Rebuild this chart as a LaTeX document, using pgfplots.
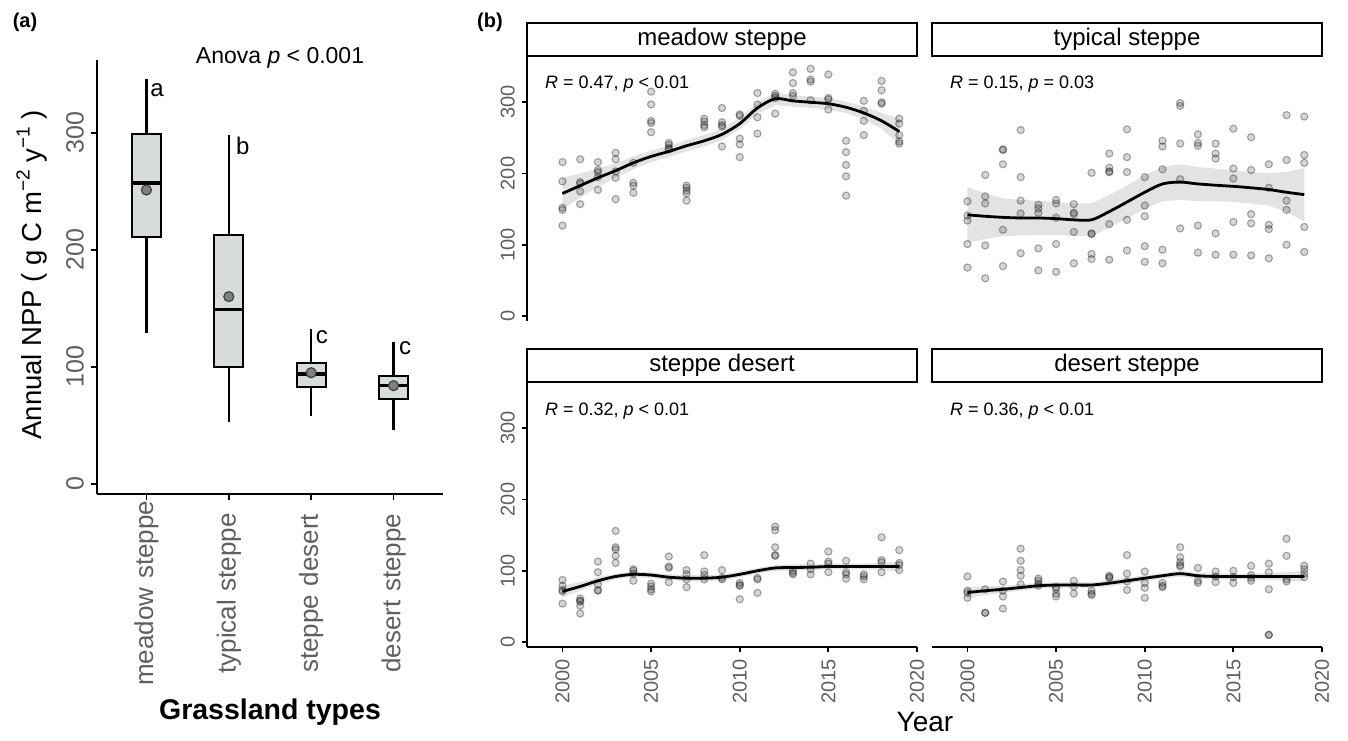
\documentclass[border=0pt]{standalone}
\usepackage{fontspec}
\setmainfont{Liberation Sans}
\usepackage{pgfplots}
\pgfplotsset{compat=1.18}
\definecolor{tickgray}{RGB}{95,95,95}
\definecolor{boxfill}{RGB}{214,220,220}
\definecolor{meanfill}{RGB}{128,128,128}
\newcommand{\fs}[1]{\fontsize{#1}{#1}\selectfont}
\newcommand{\sups}[1]{\raisebox{0.85ex}{\fs{9.5}#1}}

\tikzset{rlab/.style={anchor=west, inner sep=0pt, font=\fs{9}}}
\pgfplotsset{
  facet/.style={
    scale only axis, width=195pt, height=132.5pt,
    xmin=1998, xmax=2020, ymin=-7, ymax=365,
    xtick={2000,2005,2010,2015,2020}, ytick={0,100,200,300},
    tick align=outside, major tick length=2.5pt,
    tick style={black, line width=0.9pt},
    axis line style={black, line width=1pt, -},
    /pgf/number format/1000 sep={},
    /pgf/number format/assume math mode=true,
    yticklabel style={rotate=90, anchor=south, font=\fs{10}, text=tickgray},
    xticklabel style={rotate=90, anchor=east, font=\fs{10}, text=tickgray},
  },
  pts/.style={only marks, mark=*, mark size=1.8pt,
    mark options={fill=black, fill opacity=0.16, draw=black, draw opacity=0.32, line width=0.55pt}},
  fit/.style={black, line width=1.4pt, smooth, no marks},
  band/.style={fill=black!40, fill opacity=0.28, draw=none},
  bx/.style={draw=black, fill=boxfill, line width=1pt},
  wh/.style={black, line width=1.1pt},
  md/.style={black, line width=1.8pt},
}

\begin{document}
\begin{tikzpicture}
\useasboundingbox (0,0) rectangle (674pt,370pt);

% ---------------- Panel (a) ----------------
\begin{axis}[
  at={(48.5pt,123pt)}, anchor=south west,
  scale only axis, width=173pt, height=217pt,
  xmin=0.4, xmax=4.6, ymin=-8.5, ymax=362,
  axis x line*=bottom, axis y line*=left,
  axis line style={black, line width=1pt, -},
  tick align=outside, major tick length=3pt,
  tick style={black, line width=0.9pt},
  xtick={1,2,3,4},
  xticklabels={meadow steppe, typical steppe, steppe desert, desert steppe},
  ytick={0,100,200,300},
  /pgf/number format/assume math mode=true,
  yticklabel style={rotate=90, anchor=south, font=\fs{12.5}, text=tickgray},
  xticklabel style={rotate=90, anchor=east, font=\fs{13}, text=tickgray,
    text width=93pt, align=center, inner sep=0pt},
  clip=false,
]
% meadow steppe
\addplot[wh] coordinates {(1,299) (1,346)};
\addplot[wh] coordinates {(1,211) (1,129)};
\addplot[bx] coordinates {(0.825,211) (1.175,211) (1.175,299) (0.825,299)} -- cycle;
\addplot[md] coordinates {(0.825,257) (1.175,257)};
% typical steppe
\addplot[wh] coordinates {(2,213) (2,298)};
\addplot[wh] coordinates {(2,100) (2,53)};
\addplot[bx] coordinates {(1.825,100) (2.175,100) (2.175,213) (1.825,213)} -- cycle;
\addplot[md] coordinates {(1.825,149) (2.175,149)};
% steppe desert
\addplot[wh] coordinates {(3,103) (3,132)};
\addplot[wh] coordinates {(3,83) (3,58)};
\addplot[bx] coordinates {(2.825,83) (3.175,83) (3.175,103) (2.825,103)} -- cycle;
\addplot[md] coordinates {(2.825,94) (3.175,94)};
% desert steppe
\addplot[wh] coordinates {(4,92) (4,121)};
\addplot[wh] coordinates {(4,73) (4,46)};
\addplot[bx] coordinates {(3.825,73) (4.175,73) (4.175,92) (3.825,92)} -- cycle;
\addplot[md] coordinates {(3.825,84) (4.175,84)};
% means
\addplot[only marks, mark=*, mark size=2.5pt,
  mark options={fill=meanfill, draw=black!75, line width=0.6pt}]
  coordinates {(1,251) (2,160) (3,95) (4,84)};
\node[font=\fs{12}] at (axis cs:1.13,336) {a};
\node[font=\fs{12}] at (axis cs:2.17,289) {b};
\node[font=\fs{12}] at (axis cs:3.13,125) {c};
\node[font=\fs{12}] at (axis cs:4.14,116) {c};
\end{axis}

\node[font=\fs{11.5}] at (140pt,341pt) {Anova \textit{p} < 0.001};
\node[rotate=90, font=\fs{13.75}] at (16pt,232.5pt)
  {Annual NPP ( g C m\sups{−2} y\sups{−1} )};
\node[font=\bfseries\fs{14.25}] at (135pt,14pt) {Grassland types};
\node[font=\bfseries\fs{10}] at (12.5pt,359pt) {(a)};
\node[font=\bfseries\fs{10}] at (245pt,359pt) {(b)};

% ---------------- Panel (b) strips ----------------
\draw[line width=1pt] (263.5pt,342pt) rectangle (458.5pt,358.5pt);
\node[font=\fs{12}] at (361pt,350.25pt) {meadow steppe};
\draw[line width=1pt] (466pt,342pt) rectangle (661pt,358.5pt);
\node[font=\fs{12}] at (563.5pt,350.25pt) {typical steppe};
\draw[line width=1pt] (263.5pt,179pt) rectangle (458.5pt,195.5pt);
\node[font=\fs{12}] at (361pt,187.25pt) {steppe desert};
\draw[line width=1pt] (466pt,179pt) rectangle (661pt,195.5pt);
\node[font=\fs{12}] at (563.5pt,187.25pt) {desert steppe};

% ---------------- meadow steppe ----------------
\begin{axis}[facet, at={(263.5pt,209.5pt)}, anchor=south west,
  axis y line*=left, axis x line=none]
\addplot[pts] coordinates {
(2000,216)(2000,189)(2000,152)(2000,149)(2000,127)
(2001,220)(2001,188)(2001,186)(2001,175)(2001,157)
(2002,216)(2002,205)(2002,202)(2002,195)(2002,177)
(2003,229)(2003,220)(2003,203)(2003,194)(2003,164)
(2004,215)(2004,187)(2004,183)(2004,173)
(2005,315)(2005,297)(2005,274)(2005,271)(2005,258)
(2006,243)(2006,240)(2006,236)(2006,234)
(2007,183)(2007,180)(2007,176)(2007,172)(2007,162)
(2008,277)(2008,273)(2008,268)(2008,265)
(2009,292)(2009,272)(2009,268)(2009,266)(2009,238)
(2010,283)(2010,281)(2010,249)(2010,241)(2010,223)
(2011,313)(2011,297)(2011,279)(2011,256)
(2012,312)(2012,309)(2012,306)(2012,284)
(2013,342)(2013,327)(2013,313)(2013,309)
(2014,347)(2014,332)(2014,329)(2014,303)
(2015,339)(2015,306)(2015,304)(2015,290)
(2016,246)(2016,230)(2016,212)(2016,196)(2016,169)
(2017,302)(2017,288)(2017,274)(2017,254)
(2018,330)(2018,317)(2018,300)(2018,298)
(2019,277)(2019,270)(2019,254)(2019,245)(2019,242)
};
\addplot[band] coordinates {
(2000,194)(2001,200)(2002,207)(2003,214)(2004,224)(2005,232)(2006,239)(2007,247)
(2008,254)(2009,263)(2010,278)(2011,300)(2012,314)(2013,310)(2014,308)(2015,306)
(2016,301)(2017,294)(2018,285)(2019,277)
(2019,241)(2018,263)(2017,276)(2016,285)(2015,290)(2014,292)(2013,294)(2012,296)
(2011,284)(2010,262)(2009,247)(2008,238)(2007,231)(2006,223)(2005,216)(2004,206)
(2003,194)(2002,181)(2001,166)(2000,150)
} -- cycle;
\addplot[fit] coordinates {
(2000,172)(2001,183)(2002,194)(2003,204)(2004,215)(2005,224)(2006,231)(2007,239)
(2008,246)(2009,255)(2010,270)(2011,292)(2012,305)(2013,302)(2014,300)(2015,298)
(2016,293)(2017,285)(2018,274)(2019,259)
};
\node[rlab] at (axis cs:1999,325) {\textit{R} = 0.47, \textit{p} < 0.01};
\end{axis}

% ---------------- typical steppe ----------------
\begin{axis}[facet, at={(466pt,209.5pt)}, anchor=south west,
  axis lines=none]
\addplot[pts] coordinates {
(2000,161)(2000,141)(2000,134)(2000,101)(2000,68)
(2001,198)(2001,168)(2001,158)(2001,99)(2001,53)
(2002,234)(2002,233)(2002,213)(2002,121)(2002,70)
(2003,261)(2003,195)(2003,162)(2003,144)(2003,88)
(2004,156)(2004,151)(2004,145)(2004,95)(2004,64)
(2005,163)(2005,158)(2005,138)(2005,101)(2005,62)
(2006,157)(2006,145)(2006,143)(2006,118)(2006,74)
(2007,201)(2007,116)(2007,115)(2007,87)(2007,80)
(2008,228)(2008,208)(2008,203)(2008,202)(2008,129)(2008,79)
(2009,262)(2009,223)(2009,202)(2009,135)(2009,92)
(2010,195)(2010,155)(2010,140)(2010,98)(2010,76)
(2011,246)(2011,238)(2011,206)(2011,93)(2011,74)
(2012,299)(2012,295)(2012,242)(2012,192)(2012,123)
(2013,255)(2013,243)(2013,239)(2013,127)(2013,89)
(2014,242)(2014,228)(2014,221)(2014,116)(2014,86)
(2015,263)(2015,207)(2015,193)(2015,132)(2015,86)
(2016,251)(2016,205)(2016,143)(2016,130)(2016,85)
(2017,213)(2017,180)(2017,128)(2017,122)(2017,81)
(2018,282)(2018,219)(2018,162)(2018,149)(2018,100)
(2019,280)(2019,226)(2019,215)(2019,125)(2019,90)
};
\addplot[band] coordinates {
(2000,181)(2001,172)(2002,165)(2003,163)(2004,162)(2005,160)(2006,158)(2007,158)
(2008,170)(2009,183)(2010,198)(2011,209)(2012,213)(2013,209)(2014,207)(2015,204)
(2016,202)(2017,201)(2018,202)(2019,208)
(2019,133)(2018,146)(2017,155)(2016,158)(2015,160)(2014,161)(2013,161)(2012,163)
(2011,161)(2010,150)(2009,137)(2008,124)(2007,112)(2006,112)(2005,114)(2004,114)
(2003,113)(2002,112)(2001,108)(2000,103)
} -- cycle;
\addplot[fit] coordinates {
(2000,142)(2001,140)(2002,138.5)(2003,137.6)(2004,137.6)(2005,136.7)(2006,135)(2007,135)
(2008,146.6)(2009,160)(2010,173.7)(2011,185.4)(2012,188)(2013,185.4)(2014,183.6)(2015,182)
(2016,180)(2017,177.5)(2018,173.7)(2019,170.4)
};
\node[rlab] at (axis cs:1999,325) {\textit{R} = 0.15, \textit{p} = 0.03};
\end{axis}

% ---------------- steppe desert ----------------
\begin{axis}[facet, at={(263.5pt,46.5pt)}, anchor=south west,
  axis x line*=bottom, axis y line*=left]
\addplot[pts] coordinates {
(2000,87)(2000,79)(2000,73)(2000,71)(2000,54)
(2001,61)(2001,58)(2001,57)(2001,51)(2001,40)
(2002,113)(2002,98)(2002,81)(2002,73)(2002,72)
(2003,156)(2003,133)(2003,130)(2003,121)(2003,111)
(2004,102)(2004,100)(2004,96)(2004,86)
(2005,82)(2005,78)(2005,74)(2005,71)
(2006,120)(2006,106)(2006,104)(2006,84)
(2007,101)(2007,95)(2007,88)(2007,77)
(2008,122)(2008,99)(2008,94)(2008,88)
(2009,101)(2009,90)(2009,88)
(2010,83)(2010,80)(2010,79)(2010,60)
(2011,90)(2011,88)(2011,69)
(2012,162)(2012,157)(2012,133)(2012,122)(2012,121)
(2013,100)(2013,97)(2013,95)
(2014,110)(2014,102)(2014,95)
(2015,127)(2015,113)(2015,110)(2015,98)
(2016,114)(2016,98)(2016,95)(2016,89)
(2017,95)(2017,92)(2017,88)
(2018,147)(2018,115)(2018,112)(2018,98)
(2019,129)(2019,111)(2019,108)(2019,101)
};
\addplot[band] coordinates {
(2000,79)(2001,84)(2002,91)(2003,96)(2004,99)(2005,98)(2006,95)(2007,94)
(2008,94)(2009,95)(2010,99)(2011,104)(2012,108)(2013,109)(2014,109)(2015,110)
(2016,110)(2017,110)(2018,111)(2019,113)
(2019,99)(2018,101)(2017,102)(2016,102)(2015,102)(2014,101)(2013,100)(2012,100)
(2011,96)(2010,91)(2009,87)(2008,85)(2007,85)(2006,87)(2005,90)(2004,91)
(2003,88)(2002,81)(2001,72)(2000,63)
} -- cycle;
\addplot[fit] coordinates {
(2000,71)(2001,78)(2002,86)(2003,92)(2004,95)(2005,94)(2006,91)(2007,89.6)
(2008,89.6)(2009,91)(2010,95)(2011,100)(2012,104)(2013,104.6)(2014,105)(2015,106)
(2016,106)(2017,106)(2018,106)(2019,106)
};
\node[rlab] at (axis cs:1999,324) {\textit{R} = 0.32, \textit{p} < 0.01};
\end{axis}

% ---------------- desert steppe ----------------
\begin{axis}[facet, at={(466pt,46.5pt)}, anchor=south west,
  axis x line*=bottom, axis y line=none]
\addplot[pts] coordinates {
(2000,92)(2000,72)(2000,69)(2000,62)
(2001,74)(2001,41)(2001,41)
(2002,85)(2002,72)(2002,64)(2002,47)
(2003,131)(2003,114)(2003,101)(2003,93)(2003,81)
(2004,89)(2004,86)(2004,82)(2004,79)
(2005,77)(2005,74)(2005,68)(2005,64)
(2006,86)(2006,78)(2006,68)
(2007,72)(2007,68)(2007,66)
(2008,93)(2008,91)(2008,90)
(2009,122)(2009,96)(2009,85)(2009,73)
(2010,99)(2010,83)(2010,76)(2010,62)
(2011,83)(2011,79)(2011,77)
(2012,133)(2012,119)(2012,112)(2012,108)(2012,106)
(2013,104)(2013,86)(2013,83)
(2014,99)(2014,92)(2014,84)
(2015,100)(2015,91)(2015,83)
(2016,107)(2016,94)(2016,90)(2016,86)
(2017,110)(2017,98)(2017,74)(2017,10)(2017,10)
(2018,145)(2018,121)(2018,88)(2018,85)
(2019,107)(2019,102)(2019,96)(2019,91)
};
\addplot[band] coordinates {
(2000,77)(2001,78)(2002,79)(2003,81)(2004,83)(2005,84)(2006,84)(2007,84)
(2008,87)(2009,90)(2010,94)(2011,97)(2012,100)(2013,97)(2014,96)(2015,96)
(2016,96)(2017,97)(2018,98)(2019,100)
(2019,85)(2018,86)(2017,87)(2016,88)(2015,88)(2014,88)(2013,89)(2012,92)
(2011,89)(2010,85)(2009,82)(2008,78)(2007,76)(2006,76)(2005,76)(2004,75)
(2003,72)(2002,69)(2001,66)(2000,62)
} -- cycle;
\addplot[fit] coordinates {
(2000,69.5)(2001,72)(2002,74)(2003,76.5)(2004,79)(2005,80)(2006,80)(2007,80)
(2008,82.6)(2009,86)(2010,89.6)(2011,93)(2012,96)(2013,93)(2014,92)(2015,92)
(2016,92)(2017,92)(2018,92)(2019,92)
};
\node[rlab] at (axis cs:1999,324) {\textit{R} = 0.36, \textit{p} < 0.01};
\end{axis}

\node[font=\fs{14}] at (462.5pt,9pt) {Year};
\end{tikzpicture}
\end{document}
